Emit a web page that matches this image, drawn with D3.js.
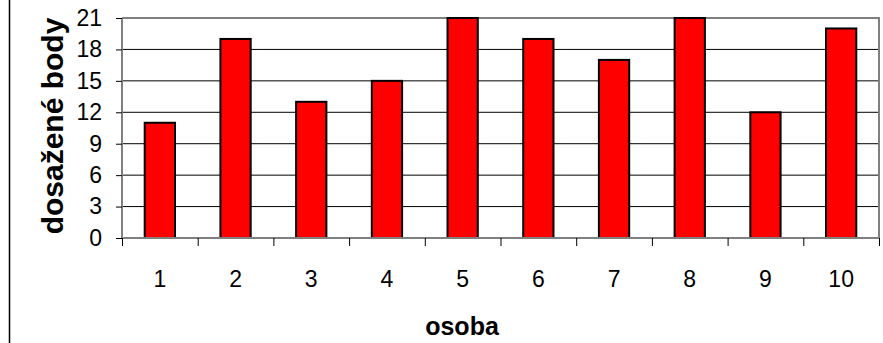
<!DOCTYPE html>
<html>
<head>
<meta charset="utf-8">
<script src="https://cdn.jsdelivr.net/npm/d3@7"></script>
<style>
  html, body { margin: 0; padding: 0; background: #fff; }
  svg { display: block; }
  text { font-family: "Liberation Sans", Arial, sans-serif; }
</style>
</head>
<body>
<script>
// Points scored per person
const persons = ["1", "2", "3", "4", "5", "6", "7", "8", "9", "10"];
const points = [11, 19, 13, 15, 21, 19, 17, 21, 12, 20];
const yTicks = [0, 3, 6, 9, 12, 15, 18, 21];
const xTitle = "osoba";
const yTitle = "dosažené body";

const W = 883, H = 343;
const plot = { left: 122, right: 879, top: 18, bottom: 238 };

const svg = d3.select("body").append("svg")
  .attr("width", W).attr("height", H);

// outer frame edge on the left
svg.append("line")
  .attr("x1", 9.5).attr("x2", 9.5).attr("y1", 0).attr("y2", H)
  .attr("stroke", "#000").attr("stroke-width", 1.5);

const x = d3.scaleBand()
  .domain(persons)
  .range([plot.left, plot.right])
  .paddingInner(0.6).paddingOuter(0.3);

const xEdges = d3.scaleLinear()
  .domain([0, persons.length])
  .range([plot.left, plot.right]);

const y = d3.scaleLinear()
  .domain([0, 21])
  .range([plot.bottom, plot.top]);

// horizontal gridlines
svg.append("g")
  .selectAll("line")
  .data(yTicks.filter(d => d > 0 && d < 21))
  .join("line")
  .attr("x1", plot.left).attr("x2", plot.right)
  .attr("y1", d => y(d)).attr("y2", d => y(d))
  .attr("stroke", "#000").attr("stroke-width", 1);

// plot border: top and right in grey
svg.append("path")
  .attr("d", `M${plot.left},${y(21)}H${plot.right}V${plot.bottom}`)
  .attr("fill", "none").attr("stroke", "#808080").attr("stroke-width", 2);

// bars
svg.append("g")
  .selectAll("rect")
  .data(points)
  .join("rect")
  .attr("x", (d, i) => x(persons[i]))
  .attr("width", x.bandwidth())
  .attr("y", d => y(d))
  .attr("height", d => y(0) - y(d))
  .attr("fill", "#ff0000")
  .attr("stroke", "#000")
  .attr("stroke-width", 2);

// y axis
const yAxis = svg.append("g")
  .attr("transform", `translate(${plot.left},0)`)
  .call(d3.axisLeft(y).tickValues(yTicks).tickSize(6).tickPadding(14));
yAxis.select(".domain").attr("stroke", "#808080").attr("stroke-width", 2)
  .attr("d", `M0,${plot.top}V${plot.bottom}`);
yAxis.selectAll(".tick line").attr("stroke", "#000");
yAxis.selectAll(".tick text")
  .attr("font-size", 23).attr("fill", "#000")
  .attr("font-family", "'Liberation Sans', Arial, sans-serif");

// x axis: ticks at category boundaries, labels centred on bars
const xAxis = svg.append("g")
  .attr("transform", `translate(0,${plot.bottom})`)
  .call(d3.axisBottom(xEdges).tickValues(d3.range(persons.length + 1))
    .tickSize(8).tickFormat(""));
xAxis.select(".domain").attr("stroke", "#808080").attr("stroke-width", 2)
  .attr("d", `M${plot.left},0H${plot.right}`);
xAxis.selectAll(".tick line").attr("stroke", "#000");

svg.append("g")
  .selectAll("text")
  .data(persons)
  .join("text")
  .attr("x", d => x(d) + x.bandwidth() / 2)
  .attr("y", 287)
  .attr("text-anchor", "middle")
  .attr("font-size", 23)
  .attr("fill", "#000")
  .text(d => d);

// axis titles
svg.append("text")
  .attr("x", 462).attr("y", 335)
  .attr("text-anchor", "middle")
  .attr("font-size", 25).attr("font-weight", "bold")
  .text(xTitle);

svg.append("text")
  .attr("transform", "translate(63,126) rotate(-90)")
  .attr("text-anchor", "middle")
  .attr("font-size", 30).attr("font-weight", "bold")
  .text(yTitle);
</script>
</body>
</html>
